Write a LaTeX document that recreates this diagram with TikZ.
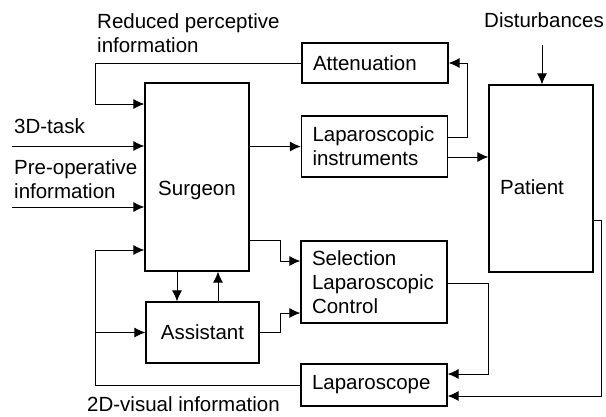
\documentclass[tikz,border=0pt]{standalone}
\usepackage{fontspec}
\setmainfont{Liberation Sans}
\usetikzlibrary{arrows.meta, positioning, calc}
\tikzset{
  >={Latex[length=11pt,width=10pt]},
  font=\fontsize{20.5}{24}\selectfont,
  cbox/.style={draw=black, line width=1.2pt, inner sep=0pt, align=center},
  rbox/.style={
    draw=black, line width=1.2pt, text width=124pt, inner xsep=11pt,
    inner ysep=0pt, align=left, minimum height=#1
  },
  arr/.style={->, line width=1pt},
  lab/.style={inner sep=0pt, align=left, anchor=west}
}
\begin{document}
\begin{tikzpicture}[x=1pt, y=-1pt]
  \useasboundingbox (0,0) rectangle (606,416);
  % blocks
  \node[cbox, minimum width=104pt, minimum height=188pt] (S) at (197,177) {\raisebox{-18pt}[0pt][0pt]{Surgeon}};
  \node[cbox, minimum width=113pt, minimum height=61pt] (A) at (202.5,332.5) {Assistant};
  \node[rbox=40pt] (At) at (375,63) {Attenuation};
  \node[rbox=61pt] (I) at (374.5,146.5) {Laparoscopic\\instruments};
  \node[rbox=82pt] (C) at (374,282) {Selection\\Laparoscopic\\Control};
  \node[rbox=42pt] (L) at (374,385) {Laparoscope};
  \node[cbox, minimum width=104pt, minimum height=187pt] (P) at (541,178.5) {\hspace*{-18pt}\raisebox{-16pt}[0pt][0pt]{Patient}};

  % labels
  \node[lab] (red) at (97,33.5) {Reduced perceptive\\information};
  \node[lab] (task3d) at (14,126) {3D-task};
  \node[lab] (preop) at (14,179.5) {Pre-operative\\information};
  \node[lab] (disttxt) at (484,20) {Disturbances};
  \node[lab] (vis2d) at (87,404) {2D-visual information};

  % inputs
  \coordinate (task) at (12,146);
  \coordinate (pre) at (12,207);
  \coordinate (dist) at (542,45);
  \coordinate (br) at (95,332.5);
  \draw[arr] (task) -- (S.west |- task);
  \draw[arr] (pre) -- (S.west |- pre);
  \draw[arr] (dist) -- (P.north -| dist);

  % feedback and flow
  \draw[arr] (At.west) -| (95,104) -- (S.west |- 0,104);
  \draw[arr] (S.east |- I.west) -- (I.west);
  \draw[arr] (S.east |- 0,240) -| (280,261) -- (C.west |- 0,261);
  \draw[arr] (A.east) -| (280,313) -- (C.west |- 0,313);
  \draw[arr] (S.south -| 177,0) -- (A.north -| 177,0);
  \draw[arr] (A.north -| 218,0) -- (S.south -| 218,0);
  \draw[arr] (I.east |- 0,137) -| (467,63) -- (At.east);
  \draw[arr] (I.east |- 0,157) -- (P.west |- 0,157);
  \draw[arr] (P.east |- 0,220) -| (601,396) -- (L.east |- 0,396);
  \draw[arr] (C.east |- 0,283) -| (488,374) -- (L.east |- 0,374);
  \draw[arr] (L.west) -| (95,250) -- (S.west |- 0,250);
  \draw[arr] (br) -- (A.west);
\end{tikzpicture}
\end{document}
